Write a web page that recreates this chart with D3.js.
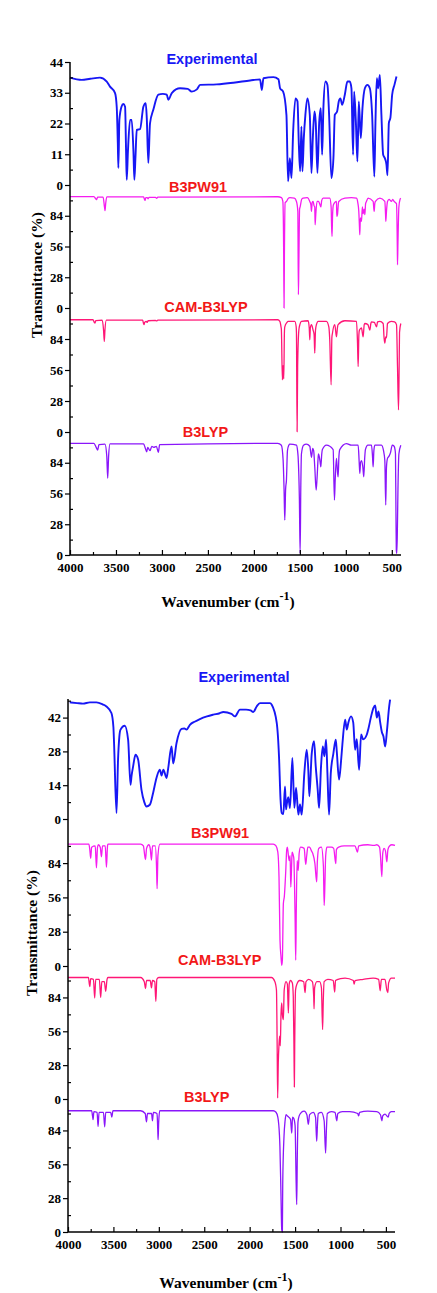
<!DOCTYPE html>
<html>
<head>
<meta charset="utf-8">
<script src="https://cdn.jsdelivr.net/npm/d3@7"></script>
<style>
  body { margin: 0; background: #fff; }
  svg { display: block; }
  .tick text { font-family: "Liberation Serif", "Times New Roman", serif; font-weight: bold; font-size: 13px; fill: #000; }
</style>
</head>
<body>
<svg width="437" height="1293"></svg>
<script>
// ---- data: [wavenumber (cm-1), transmittance (%)] ----
var topExp = [[4000,38.4],[3873,37.6],[3780,38],[3674,38.4],[3600,37],[3565,35.2],[3510,32.9],[3492,28],[3480,15],[3474,6.1],[3463,23.3],[3440,28],[3420,29],[3401,28],[3390,12],[3383,1.9],[3370,12],[3347,23.3],[3329,23.3],[3310,12],[3300,1.9],[3288,10],[3274,19.7],[3238,20],[3202,28],[3176,29.3],[3165,24],[3148,7.9],[3130,22],[3094,26.9],[3039,32.3],[2990,32.6],[2948,32.3],[2930,30.5],[2893,32.9],[2803,34.6],[2720,34.4],[2676,33.4],[2620,34.2],[2585,35.8],[2404,36],[2223,36.6],[2041,37.4],[1933,37.8],[1914,34],[1896,38.2],[1788,38.6],[1733,37.8],[1715,34.6],[1682,33.4],[1646,25.1],[1628,1.3],[1609,9.6],[1591,2.5],[1573,19.1],[1548,31],[1526,29.9],[1511,14.4],[1497,4.9],[1483,20.9],[1472,4.9],[1457,16.8],[1440,25.1],[1418,31],[1392,25.1],[1374,4.3],[1359,16.8],[1341,26.3],[1327,22.2],[1309,4.3],[1290,22.2],[1272,27.5],[1258,10.8],[1244,27.5],[1222,37],[1200,35.8],[1182,25.1],[1157,2.5],[1135,9.6],[1120,25.1],[1095,26.3],[1077,29.9],[1059,31],[1040,28.7],[1011,32.3],[983,37],[957,37],[939,34.6],[921,10.8],[910,33.4],[891,22.7],[874,8.4],[859,29.9],[837,16.8],[819,27.5],[793,34.6],[765,35.8],[739,34.6],[714,25.1],[690,3],[678,22.2],[663,38.2],[649,34.6],[630,39.4],[613,25.1],[594,10.8],[576,9.6],[558,7.3],[547,3.5],[532,22.2],[515,24.1],[496,32.3],[470,36],[449,38.8]];

var topB3PW91 = [[4000,101.5],[3740,101.5],[3720,99.5],[3710,98.6],[3700,101],[3640,101],[3625,92],[3619,88.6],[3612,95],[3600,101.2],[3200,101.2],[3190,99],[3184,98],[3175,100.5],[3160,100.5],[3150,99.5],[3140,100.8],[3070,100.8],[3057,99.8],[3045,101],[1740,101.3],[1700,100.5],[1685,97],[1676,50],[1672,0],[1668,50],[1660,96],[1646,97],[1625,100],[1609,100.5],[1560,100],[1537,97],[1522,88],[1516,12.1],[1511,40],[1503,90],[1497,92],[1480,99],[1465,100],[1420,100.5],[1392,97],[1380,94],[1374,88],[1366,96],[1356,97],[1345,93],[1338,92],[1334,75.8],[1327,85],[1313,97],[1297,97],[1285,95],[1272,92],[1262,98],[1247,100],[1175,100],[1160,92],[1155,75],[1150,65.2],[1144,85],[1135,94],[1102,97],[1098,83.4],[1091,85],[1080,96],[1077,97],[1011,100],[940,100.5],[884,100],[870,96],[859,88],[852,74.3],[848,66.7],[842,82],[830,78.9],[820,92],[812,86],[800,90],[793,85],[785,95],[776,97],[758,100],[703,97],[692,88],[685,95],[678,97],[630,100],[576,97],[568,85],[565,78.9],[558,88],[547,97],[530,99],[504,97],[490,99],[475,97],[449,95],[440,55],[438,39.4],[433,60],[423,92],[410,99],[402,100]];

var topCAM = [[4000,101.4],[3750,101.4],[3735,99],[3728,98.4],[3720,100.5],[3650,101],[3635,92],[3627,81.8],[3620,92],[3605,101],[3210,101],[3200,98],[3195,96.9],[3188,99],[3170,100],[3160,99],[3150,100.5],[3070,100.8],[3057,100.3],[3045,101],[1740,101.4],[1718,100],[1705,95],[1701,92.3],[1690,47],[1683,60],[1675,48],[1668,90],[1664,95],[1640,99],[1628,100],[1555,100],[1540,95],[1537,89.3],[1530,0.3],[1524,60],[1511,92],[1500,97],[1483,100],[1410,100.5],[1398,94],[1392,83.3],[1386,94],[1374,97],[1356,92],[1345,88],[1338,71.2],[1330,92],[1320,97],[1301,100],[1211,100],[1185,95],[1175,83.3],[1160,42.5],[1152,85],[1146,89],[1120,97],[1102,86],[1090,95],[1084,97],[1011,100.5],[884,100],[873,80.3],[866,59.1],[858,88],[852,92],[830,94],[812,86],[800,97],[793,98],[760,97],[739,92],[728,98],[721,99.5],[690,99],[666,95],[655,99.5],[630,100],[594,98],[584,85],[576,80.3],[566,86],[558,85],[550,95],[547,98],[504,100],[470,99.5],[449,97],[438,59.1],[427,20],[420,60],[416,90],[402,98]];

var topB3LYP = [[4000,101.7],[3740,101.7],[3715,98],[3699,95.6],[3685,100.5],[3620,101],[3600,90],[3590,69.9],[3580,90],[3565,101.2],[3200,101.2],[3180,97],[3166,94],[3155,98],[3130,95],[3110,99],[3090,98],[3060,99],[3039,93.5],[3025,100.5],[1740,101.7],[1701,100],[1682,86.4],[1672,60],[1664,31.8],[1655,60],[1646,68.2],[1635,95],[1620,100],[1609,101],[1537,100],[1525,95],[1519,89.4],[1505,50],[1497,1.5],[1490,60],[1483,92],[1460,100],[1430,101],[1392,99],[1374,89],[1360,97],[1350,95],[1338,80.3],[1323,59.2],[1313,70],[1300,90],[1297,92],[1280,85],[1272,80.3],[1262,92],[1255,96],[1211,100],[1138,96],[1124,50],[1115,70],[1102,88],[1090,75],[1084,71.2],[1075,90],[1066,96],[993,101.5],[940,100],[866,100],[855,85],[848,74.3],[840,84],[830,86],[815,80],[805,71.2],[795,88],[787,96],[760,100],[721,100],[710,90],[703,80.3],[695,95],[685,100],[613,100],[590,95],[576,86],[566,45.5],[558,80],[547,88],[530,90],[515,93],[495,100],[475,99],[465,96],[460,92],[455,40],[451,4.5],[446,1.5],[440,20],[433,60],[423,92],[402,100]];

var botExp = [[3981,48.3],[3900,48],[3835,47.8],[3760,48.3],[3687,48.3],[3620,47.5],[3577,46.6],[3522,43.9],[3500,38],[3493,31.5],[3466,2.5],[3449,24.6],[3435,34],[3422,37],[3375,38.6],[3338,32.8],[3312,14.2],[3300,18],[3283,21.8],[3257,26.6],[3228,24.6],[3191,12.1],[3160,7],[3136,5.2],[3099,5.9],[3063,10.8],[3026,17],[2989,20.4],[2970,18],[2950,20.4],[2915,17],[2897,21],[2860,30],[2842,23],[2805,31.5],[2750,37.3],[2720,37.5],[2695,37],[2658,39],[2600,40.4],[2548,41.4],[2470,42.5],[2401,43.2],[2330,43.8],[2291,44.3],[2200,43.5],[2162,42.5],[2107,45.3],[2040,45.3],[1990,45],[1960,44.3],[1923,46.6],[1886,48],[1831,48],[1776,48],[1757,47.3],[1702,39.8],[1677,25.9],[1660,8],[1647,2.5],[1629,2],[1611,13.5],[1600,4],[1592,6],[1575,9],[1556,4.5],[1530,25.3],[1508,4.6],[1489,13],[1464,1.8],[1446,6],[1427,1.8],[1398,19],[1372,28.7],[1354,20],[1343,9.4],[1317,27],[1291,32.2],[1273,22],[1251,12.1],[1236,4.6],[1214,22],[1195,30],[1177,26],[1159,32.8],[1144,19],[1126,1.8],[1107,19],[1079,27],[1052,32.8],[1041,28],[1016,16.3],[994,24],[979,31],[949,41.1],[931,37],[913,40],[884,42.5],[860,40],[839,28.7],[821,33],[795,20.4],[773,35],[750,33],[710,35],[692,37.5],[663,42.5],[637,46],[618,47],[600,42],[582,44.5],[563,40],[545,36],[527,34.2],[508,30],[490,36],[464,46.6],[454,49.4]];

var botB3PW91 = [[4000,99.5],[3770,99.5],[3760,95],[3750,87.9],[3740,97],[3700,98],[3687,80.2],[3675,97],[3665,99],[3645,97],[3632,89.2],[3620,98],[3590,98],[3577,80.6],[3565,98],[3560,99.5],[3200,99.5],[3170,98],[3155,90],[3147,86.9],[3135,96],[3110,99],[3095,96],[3081,86.5],[3070,98],[3040,98],[3025,80],[3019,63.2],[3010,90],[2989,99.5],[1740,99.5],[1710,98],[1690,93],[1677,72.9],[1666,21],[1655,7.6],[1647,0.6],[1640,4.7],[1629,51],[1618,57],[1603,77],[1592,95],[1585,97],[1566,86],[1555,90],[1547,64.5],[1537,85],[1533,93],[1519,90],[1514,88],[1500,40],[1493,4.7],[1486,50],[1477,86],[1466,78],[1455,92],[1440,97],[1400,96],[1383,83],[1372,90],[1360,97],[1340,97],[1320,94],[1306,92],[1282,83.8],[1262,68.6],[1255,85],[1240,96],[1210,97],[1188,81],[1180,49.5],[1174,60],[1163,90],[1150,97],[1100,97],[1075,96],[1052,83.5],[1045,95],[1020,97],[960,98],[900,98],[840,98],[813,93],[800,98],[700,99],[630,98.5],[600,99],[570,97],[560,90],[545,72.9],[535,92],[520,96],[505,94],[490,85],[478,95],[460,98],[434,99],[400,98.5]];

var botCAM = [[4000,100.5],[3775,100.5],[3765,95],[3760,93],[3750,99.5],[3720,99],[3706,83.5],[3695,99],[3655,99],[3640,84],[3628,97],[3600,97],[3585,89],[3570,99],[3560,100.5],[3200,100.5],[3160,97],[3147,91.4],[3135,98],[3095,98],[3081,92],[3070,98],[3045,97],[3033,80.7],[3022,99],[3000,100.5],[1760,100.5],[1722,97],[1705,90],[1698,50],[1692,0.8],[1685,30],[1677,45],[1670,52],[1663,44],[1655,70],[1647,79.4],[1640,70],[1629,65.6],[1620,90],[1600,97],[1585,95],[1574,71.1],[1565,95],[1550,98],[1530,96],[1520,85],[1512,40],[1508,10],[1504,45],[1495,90],[1480,95],[1450,98],[1405,97],[1390,88],[1380,97],[1350,99],[1310,97],[1295,85],[1291,74.5],[1285,92],[1260,97],[1230,97],[1210,92],[1197,57.3],[1190,80],[1180,97],[1140,99],[1080,98],[1064,88.5],[1055,98],[1000,99.5],[950,100],[858,98],[850,95],[840,98],[750,99],[640,100],[580,99],[563,89.5],[550,99],[510,99],[490,90],[479,88],[470,96],[440,100],[400,100]];

var botB3LYP = [[4000,100.3],[3740,100.3],[3730,96],[3724,92.9],[3715,99.5],[3680,99],[3669,87.3],[3658,99],[3610,99],[3596,87],[3585,99],[3530,99],[3518,95],[3505,100.3],[3200,100.3],[3150,98],[3136,91],[3125,98],[3080,98],[3070,92],[3060,99],[3020,98],[3012,85],[3008,76.4],[3002,90],[2990,100.3],[1740,100.3],[1710,99],[1690,95],[1672,80],[1667,70.8],[1655,30],[1647,2],[1640,0],[1636,40],[1622,79],[1610,92],[1600,97],[1585,96],[1570,95],[1550,93],[1537,81.8],[1528,95],[1515,94],[1500,88],[1488,40],[1482,22.6],[1476,60],[1468,91],[1455,96],[1430,99],[1400,100],[1370,97],[1354,89],[1340,97],[1300,99],[1275,95],[1262,75],[1253,90],[1245,98],[1210,99],[1180,92],[1164,65.3],[1155,85],[1145,98],[1100,99.5],[1060,99],[1041,92],[1030,98],[980,99.5],[900,99.5],[810,98],[800,96],[790,99],[700,100],[600,99.5],[560,97],[545,92],[535,96],[510,97.5],[475,95],[465,98],[440,99.5],[400,99.5]];

// ticks
var xTicks = [4000, 3500, 3000, 2500, 2000, 1500, 1000, 500];
var xMinor = [3750, 3250, 2750, 2250, 1750, 1250, 750];
var topExpTicks = [0, 11, 22, 33, 44];
var botExpTicks = [0, 14, 28, 42];
var calcTicks = [0, 28, 56, 84];

var blue = "#1717f5", red = "#f21818";

var svg = d3.select("svg");

var figures = [
  { xr: [70, 401], bounds: [62, 185, 308, 432, 555], ylab: [41.5, 275], xlab: [228, 607],
    panels: [
      { name: "Experimental", data: topExp, dom: [0, 44], ticks: topExpTicks, minor: 5.5, color: blue, w: 1.9, title: [212, 64], tcol: blue },
      { name: "B3PW91", data: topB3PW91, dom: [0, 112], ticks: calcTicks, minor: 14, color: "#f51cf0", w: 1.3, title: [198, 191.5], tcol: red },
      { name: "CAM-B3LYP", data: topCAM, dom: [0, 112], ticks: calcTicks, minor: 14, color: "#ff1676", w: 1.3, title: [206, 311.5], tcol: red },
      { name: "B3LYP", data: topB3LYP, dom: [0, 112], ticks: calcTicks, minor: 14, color: "#8a16fa", w: 1.3, title: [205.5, 436.5], tcol: red }
    ] },
  { xr: [68, 395], bounds: [699, 819, 966, 1099, 1232], ylab: [36.5, 933], xlab: [226, 1288],
    panels: [
      { name: "Experimental", data: botExp, dom: [0, 49.7], ticks: botExpTicks, minor: 7, color: blue, w: 1.9, title: [244, 682], tcol: blue },
      { name: "B3PW91", data: botB3PW91, dom: [0, 120], ticks: calcTicks, minor: 14, color: "#f51cf0", w: 1.3, title: [220, 838], tcol: red },
      { name: "CAM-B3LYP", data: botCAM, dom: [0, 110], ticks: calcTicks, minor: 14, color: "#ff1676", w: 1.3, title: [219.7, 965], tcol: red },
      { name: "B3LYP", data: botB3LYP, dom: [0, 110], ticks: calcTicks, minor: 14, color: "#8a16fa", w: 1.3, title: [206.7, 1101.5], tcol: red }
    ] }
];

figures.forEach(function (f) {
  var x = d3.scaleLinear().domain([4000, 400]).range(f.xr);
  var bottom = f.bounds[4];

  f.panels.forEach(function (p, i) {
    var y = d3.scaleLinear().domain(p.dom).range([f.bounds[i + 1], f.bounds[i]]);

    var line = d3.line()
      .x(function (d) { return x(d[0]); })
      .y(function (d) { return y(d[1]); })
      .curve(d3.curveMonotoneX);

    svg.append("path")
      .datum(p.data)
      .attr("d", line)
      .attr("fill", "none")
      .attr("stroke", p.color)
      .attr("stroke-width", p.w)
      .attr("stroke-linejoin", "round");

    // minor ticks
    var minors = d3.range(p.minor, p.dom[1], p.minor * 2);
    svg.append("g")
      .attr("transform", "translate(" + f.xr[0] + ",0)")
      .call(d3.axisLeft(y).tickValues(minors).tickSize(-3).tickFormat(""))
      .call(function (g) { g.select(".domain").remove(); })
      .selectAll("line").attr("stroke", "#000").attr("stroke-width", 1.2);

    // major ticks + labels
    svg.append("g")
      .attr("transform", "translate(" + f.xr[0] + ",0)")
      .call(d3.axisLeft(y).tickValues(p.ticks).tickSize(5).tickPadding(2).tickFormat(d3.format("d")))
      .call(function (g) { g.select(".domain").remove(); })
      .selectAll("line").attr("stroke", "#000").attr("stroke-width", 1.2);

    svg.append("text")
      .attr("x", p.title[0]).attr("y", p.title[1])
      .attr("text-anchor", "middle")
      .attr("font-family", "Liberation Sans, Arial, sans-serif")
      .attr("font-weight", "bold")
      .attr("font-size", 14.5)
      .attr("fill", p.tcol)
      .text(p.name);
  });

  // x axis
  svg.append("g")
    .attr("transform", "translate(0," + bottom + ")")
    .call(d3.axisBottom(x).tickValues(xMinor).tickSize(-3).tickFormat(""))
    .call(function (g) { g.select(".domain").remove(); })
    .selectAll("line").attr("stroke", "#000").attr("stroke-width", 1.2);

  svg.append("g")
    .attr("transform", "translate(0," + bottom + ")")
    .call(d3.axisBottom(x).tickValues(xTicks).tickSize(-5).tickPadding(7.5).tickFormat(d3.format("d")))
    .call(function (g) { g.select(".domain").remove(); })
    .selectAll("line").attr("stroke", "#000").attr("stroke-width", 1.2);

  // axis lines
  svg.append("line")
    .attr("x1", f.xr[0]).attr("x2", f.xr[0])
    .attr("y1", f.bounds[0]).attr("y2", bottom)
    .attr("stroke", "#000").attr("stroke-width", 1.5);
  svg.append("line")
    .attr("x1", f.xr[0]).attr("x2", f.xr[1])
    .attr("y1", bottom).attr("y2", bottom)
    .attr("stroke", "#000").attr("stroke-width", 1.5);

  // axis titles
  var xl = svg.append("text")
    .attr("x", f.xlab[0]).attr("y", f.xlab[1])
    .attr("text-anchor", "middle")
    .attr("font-family", "Liberation Serif, Times New Roman, serif")
    .attr("font-weight", "bold")
    .attr("font-size", 15.5);
  xl.append("tspan").text("Wavenumber (cm");
  xl.append("tspan").attr("dy", -7).attr("font-size", 12).text("-1");
  xl.append("tspan").attr("dy", 7).text(")");

  svg.append("text")
    .attr("transform", "translate(" + f.ylab[0] + "," + f.ylab[1] + ") rotate(-90)")
    .attr("text-anchor", "middle")
    .attr("font-family", "Liberation Serif, Times New Roman, serif")
    .attr("font-weight", "bold")
    .attr("font-size", 15.5)
    .text("Transmittance (%)");
});
</script>
</body>
</html>
